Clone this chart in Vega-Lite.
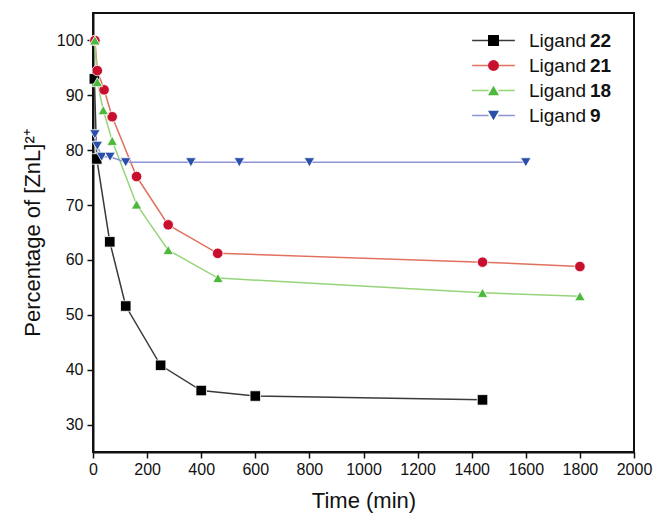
{
  "$schema": "https://vega.github.io/schema/vega-lite/v6.json",
  "width": 541,
  "height": 439,
  "autosize": "none",
  "padding": {"left": 93, "top": 13, "right": 20, "bottom": 62},
  "background": "white",
  "config": {
    "view": {"stroke": "#111", "strokeWidth": 2},
    "font": "Liberation Sans",
    "axis": {"grid": false, "domainColor": "#111", "domainWidth": 2, "tickColor": "#111", "tickWidth": 1.5, "tickSize": 6, "labelFontSize": 16, "labelColor": "#111", "titleFontSize": 22, "titleFontWeight": "normal", "titleColor": "#111", "labelFont": "Liberation Sans", "titleFont": "Liberation Sans", "format": "d"},
    "legend": {"padding": 0, "labelFontSize": 19, "labelColor": "#111", "rowPadding": 5, "labelFont": "Liberation Sans"}
  },
  "data": {"values": [
    {"t": 5, "p": 93.0, "s": "Ligand 22"},
    {"t": 14, "p": 78.4, "s": "Ligand 22"},
    {"t": 62, "p": 63.3, "s": "Ligand 22"},
    {"t": 121, "p": 51.6, "s": "Ligand 22"},
    {"t": 250, "p": 40.8, "s": "Ligand 22"},
    {"t": 400, "p": 36.2, "s": "Ligand 22"},
    {"t": 600, "p": 35.2, "s": "Ligand 22"},
    {"t": 1440, "p": 34.5, "s": "Ligand 22"},
    {"t": 7, "p": 100.0, "s": "Ligand 21"},
    {"t": 16, "p": 94.5, "s": "Ligand 21"},
    {"t": 41, "p": 91.0, "s": "Ligand 21"},
    {"t": 71, "p": 86.1, "s": "Ligand 21"},
    {"t": 161, "p": 75.2, "s": "Ligand 21"},
    {"t": 278, "p": 66.4, "s": "Ligand 21"},
    {"t": 461, "p": 61.2, "s": "Ligand 21"},
    {"t": 1440, "p": 59.6, "s": "Ligand 21"},
    {"t": 1800, "p": 58.8, "s": "Ligand 21"},
    {"t": 7, "p": 100.0, "s": "Ligand 18"},
    {"t": 16, "p": 92.4, "s": "Ligand 18"},
    {"t": 38, "p": 87.3, "s": "Ligand 18"},
    {"t": 71, "p": 81.7, "s": "Ligand 18"},
    {"t": 161, "p": 70.1, "s": "Ligand 18"},
    {"t": 278, "p": 61.8, "s": "Ligand 18"},
    {"t": 462, "p": 56.7, "s": "Ligand 18"},
    {"t": 1440, "p": 54.0, "s": "Ligand 18"},
    {"t": 1800, "p": 53.4, "s": "Ligand 18"},
    {"t": 7, "p": 82.9, "s": "Ligand 9"},
    {"t": 16, "p": 80.8, "s": "Ligand 9"},
    {"t": 32, "p": 78.8, "s": "Ligand 9"},
    {"t": 63, "p": 78.8, "s": "Ligand 9"},
    {"t": 121, "p": 77.8, "s": "Ligand 9"},
    {"t": 362, "p": 77.8, "s": "Ligand 9"},
    {"t": 541, "p": 77.8, "s": "Ligand 9"},
    {"t": 800, "p": 77.8, "s": "Ligand 9"},
    {"t": 1600, "p": 77.8, "s": "Ligand 9"}
  ]},
  "encoding": {
    "x": {"field": "t", "type": "quantitative", "title": "Time (min)", "scale": {"domain": [0, 2000], "nice": false, "zero": false}, "axis": {"values": [0,200,400,600,800,1000,1200,1400,1600,1800,2000], "titleBaseline": "alphabetic", "titleY": 55, "labelPadding": 3, "labelFlush": false}},
    "y": {"field": "p", "type": "quantitative", "title": "Percentage of [ZnL]²⁺", "scale": {"domain": [25, 105], "nice": false, "zero": false}, "axis": {"values": [30,40,50,60,70,80,90,100], "titlePadding": 12, "labelPadding": 4}}
  },
  "layer": [
    {
      "mark": {"type": "line", "strokeWidth": 1.5},
      "encoding": {
        "stroke": {"field": "s", "type": "nominal", "sort": ["Ligand 22", "Ligand 21", "Ligand 18", "Ligand 9"], "scale": {"range": ["#3a3a3a", "#e2705f", "#96d47a", "#8c94d6"]},
          "legend": {"title": null, "orient": "none", "legendX": 391, "legendY": 18, "symbolType": "M-3.9,0H-0.9M0.9,0H3.9", "symbolSize": 120, "symbolStrokeWidth": 1.5, "labelExpr": "replace(datum.label, 'Ligand ', '')", "labelFontWeight": "bold", "labelOffset": 87}}
      }
    },
    {
      "mark": {"type": "point", "filled": true, "opacity": 1, "size": 110, "stroke": "white", "strokeWidth": 0.8},
      "encoding": {
        "fill": {"field": "s", "type": "nominal", "scale": {"domain": ["Ligand 22", "Ligand 21", "Ligand 18", "Ligand 9"], "range": ["#000000", "#c8102e", "#4cb83c", "#2a4fa8"]},
          "legend": {"title": null, "orient": "none", "legendX": 391, "legendY": 18, "symbolSize": 120, "symbolStrokeWidth": 0, "labelOffset": 26, "labelExpr": "'Ligand'", "labelFontWeight": "normal"}},
        "shape": {"field": "s", "type": "nominal", "scale": {"domain": ["Ligand 22", "Ligand 21", "Ligand 18", "Ligand 9"], "range": ["square", "circle", "triangle-up", "triangle-down"]},
          "legend": {"title": null, "orient": "none", "legendX": 391, "legendY": 18, "symbolSize": 120, "symbolStrokeWidth": 0, "labelOffset": 26, "labelExpr": "'Ligand'", "labelFontWeight": "normal"}}
      }
    }
  ]
}
